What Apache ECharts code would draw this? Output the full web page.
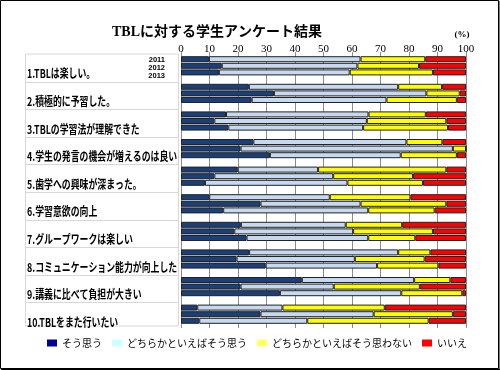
<!DOCTYPE html>
<html><head><meta charset="utf-8">
<script src="https://cdn.jsdelivr.net/npm/echarts@6/dist/echarts.min.js"></script>
<style>html,body{margin:0;padding:0;background:#fff}#c{width:500px;height:370px}</style>
</head><body><div id="c"></div>
<script>
const questions = ['1.TBLは楽しい。','2.積極的に予習した。','3.TBLの学習法が理解できた','4.学生の発言の機会が増えるのは良い','5.歯学への興味が深まった。','6.学習意欲の向上','7.グループワークは楽しい','8.コミュニケーション能力が向上した','9.講義に比べて負担が大きい','10.TBLをまた行いたい'];
const years = ['2011','2012','2013'];
const responses = ['そう思う','どちらかといえばそう思う','どちらかといえばそう思わない','いいえ'];
const xTicks = [0,10,20,30,40,50,60,70,80,90,100];

const agree2011    = [9.8, 23.8, 15.8, 25.4, 19.9, 9.9, 21.0, 23.9, 42.4, 5.7];
const ratherY2011  = [53.2, 52.4, 50.0, 53.7, 28.2, 42.3, 36.8, 52.3, 39.4, 29.9];
const ratherN2011  = [22.7, 15.4, 20.1, 12.6, 45.0, 28.3, 19.8, 11.3, 12.7, 35.9];
const no2011       = [14.3, 8.4, 14.1, 8.3, 6.9, 19.5, 22.4, 12.5, 5.5, 28.5];

const agree2012    = [14.3, 32.6, 11.7, 20.9, 11.7, 27.9, 18.7, 19.5, 20.9, 27.9];
const ratherY2012  = [47.6, 53.5, 53.5, 74.5, 41.7, 35.1, 41.7, 41.5, 32.7, 39.7];
const ratherN2012  = [21.6, 11.7, 27.9, 4.6, 28.0, 30.1, 28.0, 24.5, 30.2, 27.8];
const no2012       = [16.5, 2.2, 6.9, 0, 18.6, 6.9, 11.6, 14.5, 16.2, 4.6];

const agree2013    = [13.3, 24.8, 16.6, 31.2, 8.4, 14.8, 23.0, 29.7, 34.7, 6.4];
const ratherY2013  = [45.9, 47.3, 47.3, 45.9, 50.0, 50.9, 42.7, 39.1, 42.6, 37.9];
const ratherN2013  = [29.2, 24.7, 29.8, 19.7, 26.5, 23.3, 16.5, 21.5, 21.4, 42.6];
const no2013       = [11.6, 3.2, 6.3, 3.2, 15.1, 11.0, 17.8, 9.7, 1.3, 13.1];

const byYear = {
  '2011': [agree2011, ratherY2011, ratherN2011, no2011],
  '2012': [agree2012, ratherY2012, ratherN2012, no2012],
  '2013': [agree2013, ratherY2013, ratherN2013, no2013]
};
const barColors = ['#1B3F78', '#C6D9F1', '#FFFF00', '#FF0000'];
const legendColors = ['#000099', '#CCFFFF', '#FFFF66', '#FF0000'];

const series = [];
years.forEach(function (y) {
  responses.forEach(function (r, ri) {
    series.push({
      type: 'bar', name: r, stack: y, data: byYear[y][ri],
      barWidth: 6, barGap: '10%',
      itemStyle: { color: barColors[ri], borderColor: '#222', borderWidth: 1 },
      emphasis: { disabled: true }, animation: false
    });
  });
});

const chart = echarts.init(document.getElementById('c'), null, { renderer: 'canvas' });
chart.setOption({
  animation: false,
  grid: { left: 181, width: 285, top: 52, height: 276 },
  xAxis: {
    type: 'value', position: 'top', min: 0, max: 100, interval: 10,
    axisLine: { show: false }, axisTick: { show: false },
    axisLabel: { color: '#000', fontFamily: 'Liberation Serif', fontSize: 11, margin: -3,
      formatter: function (v) { return xTicks.indexOf(v) >= 0 ? String(v) : ''; } },
    splitLine: { show: true, lineStyle: { color: '#8c8c8c', width: 1 } }
  },
  yAxis: {
    type: 'category', data: questions, inverse: true,
    axisLine: { show: false }, axisTick: { show: false }, axisLabel: { show: false },
    splitLine: { show: false }
  },
  legend: {
    left: 42, top: 333, itemWidth: 10, itemHeight: 7, itemGap: 10,
    textStyle: { fontSize: 10, fontFamily: 'Noto Sans CJK JP', color: '#000' },
    data: responses.map(function (r, i) {
      return { name: r, icon: 'rect', itemStyle: { color: legendColors[i], borderWidth: 0 } };
    })
  },
  series: series
});

// decorations computed from the axis scale
const g = [];
g.push({ type: 'rect', silent: true, z: 100, shape: { x: 0.5, y: 0.5, width: 498, height: 368 }, style: { fill: null, stroke: '#000', lineWidth: 1 } });
g.push({ type: 'line', silent: true, z: 100, shape: { x1: 499, y1: 1, x2: 499, y2: 370 }, style: { stroke: '#000', lineWidth: 1 } });
g.push({ type: 'line', silent: true, z: 100, shape: { x1: 1, y1: 369.5, x2: 500, y2: 369.5 }, style: { stroke: '#000', lineWidth: 1 } });
g.push({ type: 'text', silent: true, x: 217, y: 32,
  style: { text: 'TBLに対する学生アンケート結果', font: 'bold 14px "Liberation Serif", "Noto Sans CJK JP"', fill: '#000', textAlign: 'center', textVerticalAlign: 'middle' } });
g.push({ type: 'text', silent: true, x: 462, y: 35,
  style: { text: '(%)', font: 'bold 9px "Liberation Serif"', fill: '#000', textAlign: 'center', textVerticalAlign: 'middle' } });

const c0 = chart.convertToPixel({ yAxisIndex: 0 }, 0);
const c1 = chart.convertToPixel({ yAxisIndex: 0 }, 1);
const band = c1 - c0;
const panelTop = c0 - band / 2 + 2;
const panelBottom = chart.convertToPixel({ yAxisIndex: 0 }, questions.length - 1) + band / 2 - 2;
g.push({ type: 'rect', silent: true, z: 1, shape: { x: 25.5, y: panelTop, width: 153, height: panelBottom - panelTop }, style: { fill: '#fff', stroke: '#d8d8d8', lineWidth: 1 } });
questions.forEach(function (q, i) {
  const cy = chart.convertToPixel({ yAxisIndex: 0 }, i);
  if (i > 0) {
    const ly = Math.round(cy - band / 2 + 2) + 0.5;
    g.push({ type: 'line', silent: true, z: 2, shape: { x1: 25.5, y1: ly, x2: 178.5, y2: ly }, style: { stroke: '#d8d8d8', lineWidth: 1 } });
  }
  g.push({ type: 'text', silent: true, z: 3, x: 27, y: cy + 8, scaleX: 0.74,
    style: { text: q, font: 'bold 12px "Noto Sans CJK JP"', fill: '#000', textVerticalAlign: 'middle' } });
});
years.forEach(function (y, k) {
  const cy = c0 + (k - 1) * 8 + 2.5;
  g.push({ type: 'text', silent: true, z: 3, x: 165, y: cy,
    style: { text: y, font: 'bold 7.5px "Liberation Sans"', fill: '#000', textAlign: 'right', textVerticalAlign: 'middle' } });
});
chart.setOption({ graphic: g });
</script>
</body></html>
